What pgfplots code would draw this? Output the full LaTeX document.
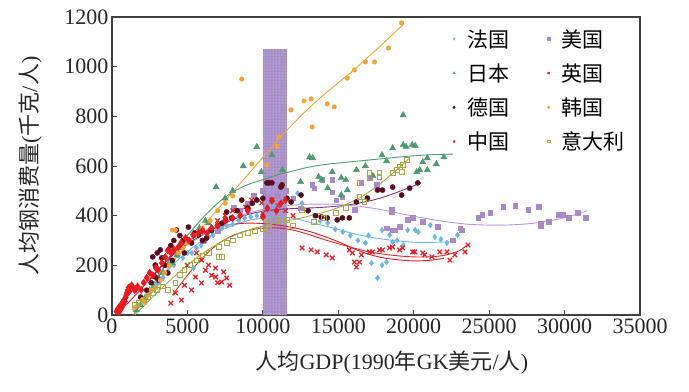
\documentclass[border=0pt]{standalone}
\usepackage{pgfplots}
\pgfplotsset{compat=1.18}
\usepackage{fontspec}
\setmainfont{Liberation Serif}
\newfontfamily\cjk{Noto Sans CJK SC}
\usetikzlibrary{patterns}
\definecolor{cFR}{HTML}{6DB6E8}
\definecolor{cJP}{HTML}{4F9A6E}
\definecolor{cDE}{HTML}{5A0B1E}
\definecolor{cCN}{HTML}{E51A22}
\definecolor{cUS}{HTML}{A88AC8}
\definecolor{cUK}{HTML}{E0262C}
\definecolor{cKR}{HTML}{F2A33A}
\definecolor{cIT}{HTML}{A7A84A}
\definecolor{cDEl}{HTML}{7B3294}
\definecolor{cUSl}{HTML}{B899D6}
\definecolor{band}{HTML}{A88FC9}
\begin{document}
\begin{tikzpicture}
\begin{axis}[name=ax,
  scale only axis, width=528pt, height=298pt,
  xmin=0, xmax=35000, ymin=0, ymax=1200,
  xtick={0,5000,...,35000}, ytick={0,200,...,1200},
  scaled x ticks=false, scaled y ticks=false,
  xtick pos=bottom, ytick pos=left, tick align=inside,
  major tick length=5pt,
  axis line style={draw=black!75, line width=1.2pt},
  every tick/.style={black!75, line width=1pt},
  /pgf/number format/1000 sep={},
  /pgf/number format/assume math mode=true,
  tick label style={font=\fontsize{22}{26}\selectfont, text=black!85},
  label style={font=\fontsize{22}{26}\selectfont, text=black!85},
  xlabel={{\cjk 人均}GDP(1990{\cjk 年}GK{\cjk 美元}/{\cjk 人})},
  ylabel={{\cjk 人均钢消费量}({\cjk 千克}/{\cjk 人})},
  xlabel style={at={(axis description cs:0.53,-0.161)}, anchor=center},
  ylabel style={at={(axis description cs:-0.155,0.5)}, anchor=center, rotate=0},
  legend columns=2,
  legend style={at={(axis description cs:0.645,0.966)}, anchor=north west,
    draw=none, fill=none, inner sep=0pt,
    font=\fontsize{21}{25}\selectfont, row sep=11pt,
    /tikz/every odd column/.append style={column sep=10pt},
    /tikz/every even column/.append style={column sep=36pt}},
  legend cell align=left,
  legend image code/.code={\draw[#1, mark size=1.3pt] plot coordinates {(0cm,0cm)};},
]
% shaded band
\addplot[draw=none, fill=band, forget plot] coordinates {(10000,1070) (11600,1070)} \closedcycle;
\addplot[draw=none, pattern=dots, pattern color=white!75!band, forget plot] coordinates {(10000,1070) (11600,1070)} \closedcycle;

% trend lines
\addplot[cFR, line width=0.9pt, smooth, forget plot] coordinates {(2000,55) (3000,130) (4000,200) (5000,255) (6000,300) (7000,335) (8000,360) (9000,380) (10000,390) (11000,395) (12000,390) (13000,375) (14000,360) (15000,345) (16000,328) (17000,315) (18000,305) (19000,298) (20000,293) (21000,292) (22500,295)};
\addplot[cJP, line width=0.9pt, smooth, forget plot] coordinates {(1400,0) (2000,50) (3000,150) (4000,240) (5000,320) (6000,390) (7000,450) (8000,495) (9000,525) (10000,545) (11000,565) (12000,580) (13000,595) (14000,605) (15000,612) (16000,618) (17000,624) (18000,630) (19000,636) (20000,641) (21000,645) (22600,648)};
\addplot[cDEl, line width=0.9pt, smooth, forget plot] coordinates {(2500,140) (3500,210) (4500,265) (5500,305) (6500,340) (7500,370) (8500,395) (9500,412) (10500,422) (11500,427) (12500,430) (13500,432) (14500,436) (15500,442) (16500,452) (17500,466) (18500,485) (19500,508) (20500,532)};
\addplot[cUSl, line width=0.9pt, smooth, forget plot] coordinates {(5500,300) (7000,360) (8500,400) (10000,425) (11500,440) (13000,446) (14500,446) (16000,440) (17500,428) (19000,410) (20500,392) (22000,377) (23500,366) (25000,362) (26500,363) (28000,370) (29500,385) (30500,400) (31500,420)};
\addplot[cUK, line width=0.9pt, smooth, forget plot] coordinates {(4000,80) (5000,160) (6000,230) (7000,285) (8000,320) (9000,340) (10000,350) (11000,350) (12000,342) (13000,325) (14000,305) (15000,287) (16000,270) (17000,255) (18000,245) (19000,238) (20000,234) (21000,234) (22000,240) (23000,258) (23600,285)};
\addplot[cCN, line width=0.9pt, smooth, forget plot] coordinates {(300,10) (1000,45) (2000,110) (3000,180) (4000,245) (5000,295) (6000,330) (7000,352) (8000,365) (9000,370) (10000,368) (11000,362) (12000,352) (13000,338) (14000,318) (15000,295) (16000,268) (17000,245) (18000,230) (19000,222) (20000,218) (21000,220) (22000,228)};
\addplot[cKR, line width=0.9pt, smooth, forget plot] coordinates {(1300,20) (2000,60) (3000,130) (4000,210) (5000,285) (6000,355) (7000,425) (8000,495) (9000,565) (10000,635) (11000,705) (12000,770) (13000,830) (14000,885) (15000,935) (16000,985) (17000,1040) (18000,1095) (19300,1170)};
\addplot[cIT, line width=0.9pt, smooth, forget plot] coordinates {(1500,0) (2500,60) (3500,120) (4500,175) (5500,225) (6500,268) (7500,303) (8500,330) (9500,350) (10500,365) (11500,378) (12500,390) (13500,405) (14500,422) (15500,445) (16500,475) (17500,515) (18500,565) (19700,630)};

% scatter series (legend order)
\addplot[only marks, mark=diamond*, mark size=2.8pt, color=cFR] coordinates {(2000,60) (2300,80) (2600,95) (2900,120) (3100,130) (3400,150) (3700,175) (3900,210) (4100,200) (4400,240) (4500,290) (4700,230) (5000,250) (5300,250) (5400,190) (5600,270) (5900,280) (6200,300) (6400,315) (6700,320) (7000,340) (7300,350) (7600,360) (8000,365) (8400,380) (8800,390) (9200,395) (9600,400) (10000,410) (10400,430) (10800,440) (11200,460) (11600,470) (12000,470) (12300,490) (12600,450) (13000,420) (13400,400) (13800,380) (14300,370) (14800,345) (15300,335) (15800,320) (16300,300) (16800,290) (17200,209) (17600,149) (17900,201) (18200,213) (18400,322) (18600,294) (18900,300) (19300,282) (19600,342) (20100,342) (20300,334) (21100,362) (21400,314) (21800,305) (22200,290) (22900,322) (17900,342) (17000,320)};
\addlegendentry{{\cjk 法国}}
\addplot[only marks, mark=square*, mark size=2.3pt, color=cUS] coordinates {(6000,300) (7000,340) (8070,431) (8500,420) (9000,450) (9400,483) (10000,500) (10500,470) (11000,480) (11500,500) (12000,470) (12500,430) (13270,524) (13400,511) (13930,544) (14600,544) (14600,495) (14870,463) (15270,475) (16070,423) (16530,532) (17070,552) (17530,524) (18530,423) (18530,415) (18200,350) (18600,342) (18730,342) (19070,355) (19600,383) (19930,391) (20600,375) (21600,355) (22600,302) (23070,350) (23200,342) (24270,391) (24530,403) (25070,411) (25930,435) (26730,439) (27600,423) (28270,435) (28400,359) (28400,370) (28930,375) (29600,403) (29870,403) (30270,391) (30870,411) (31400,391)};
\addlegendentry{{\cjk 美国}}
\addplot[only marks, mark=triangle*, mark size=3.6pt, color=cJP] coordinates {(1600,20) (1900,40) (2200,70) (2500,100) (2800,110) (3100,150) (3400,170) (3700,200) (4000,210) (4300,240) (4600,270) (5000,300) (5400,330) (5800,350) (6200,380) (6400,370) (6900,515) (7500,470) (8000,500) (8700,600) (9600,677) (9900,576) (10600,644) (11300,584) (12500,536) (13100,636) (13300,632) (13700,556) (13900,544) (14300,511) (14600,576) (15200,552) (15200,483) (15500,544) (15600,503) (16200,584) (17900,644) (18600,672) (19300,685) (19300,805) (19500,677) (19900,685) (20100,681) (20200,576) (20400,584) (20600,616) (20900,632) (20900,584) (21500,608) (22000,636) (16800,600) (17300,560) (18200,620)};
\addlegendentry{{\cjk 日本}}
\addplot[only marks, mark=x, mark size=3.2pt, line width=1.3pt, color=cUK] coordinates {(3900,48) (4200,89) (4600,60) (4800,120) (5270,101) (5530,153) (5930,129) (5930,221) (6200,180) (6400,201) (6600,160) (6870,189) (6870,153) (7000,130) (7270,133) (7400,173) (7600,149) (7800,120) (5000,200) (5600,250) (6100,300) (6500,340) (7000,380) (7500,400) (8000,420) (8870,435) (9070,435) (9270,463) (9930,451) (10600,463) (10000,410) (11000,440) (11500,420) (12000,400) (12600,270) (13200,262) (13600,254) (14200,242) (14600,230) (15730,262) (15930,250) (16070,213) (16200,193) (16400,213) (16530,242) (17070,254) (17270,254) (17730,262) (17930,262) (18400,270) (18600,274) (19070,262) (19270,270) (19930,254) (20070,254) (20600,250) (20730,242) (21200,234) (21730,254) (22200,254) (22400,221) (22730,242) (23400,254) (23600,282)};
\addlegendentry{{\cjk 英国}}
\addplot[only marks, mark=*, mark size=2.6pt, color=cDE] coordinates {(1900,72) (2300,100) (2600,130) (2700,234) (2870,201) (2870,153) (3000,250) (3200,262) (3300,230) (3500,200) (3700,169) (3730,262) (3900,280) (4100,300) (4270,342) (4500,320) (4700,300) (5070,354) (5270,290) (5500,330) (5730,322) (6000,300) (6270,310) (6600,340) (7000,360) (7300,370) (7530,382) (7600,415) (7930,391) (8300,420) (8600,463) (9000,430) (9300,450) (9600,463) (10000,470) (10270,532) (10400,532) (10600,532) (11200,515) (11270,524) (11600,470) (11870,455) (12530,483) (13000,420) (13500,400) (13870,395) (14270,391) (14930,383) (15270,391) (15730,391) (16200,455) (16930,471) (17600,503) (17930,503) (18600,515) (19200,483) (19730,511) (20270,532) (3100,140) (4000,220) (4800,250)};
\addlegendentry{{\cjk 德国}}
\addplot[only marks, mark=*, mark size=2.3pt, color=cKR] coordinates {(1500,30) (1700,40) (2000,60) (2200,50) (2400,80) (2600,100) (2900,110) (3200,140) (3500,170) (3800,200) (4000,342) (4200,342) (4400,250) (4700,270) (5000,290) (5500,320) (6000,350) (6500,380) (7000,420) (7500,450) (8000,480) (8600,950) (9270,608) (10270,604) (10930,680) (11070,717) (11870,826) (12730,862) (13200,870) (13270,757) (14270,850) (14730,838) (15600,954) (16070,987) (16800,1019) (17400,1019) (18330,1075) (19200,1176)};
\addlegendentry{{\cjk 韩国}}
\addplot[only marks, mark=diamond*, mark size=3.6pt, color=cCN] coordinates {(300,15) (400,25) (450,10) (500,35) (550,20) (600,40) (650,30) (700,50) (750,45) (800,60) (850,55) (900,70) (950,80) (1000,90) (1050,100) (1100,110) (1150,95) (1200,113) (1300,120) (1400,110) (1500,100) (1600,105) (1700,115) (1930,101) (2100,130) (2300,150) (2500,170) (2700,160) (2900,190) (3070,181) (3300,210) (3530,234) (3700,260) (3900,250) (4100,265) (4400,274) (4600,290) (4870,310) (5100,300) (5400,320) (5730,330) (6000,340) (6300,330) (6600,350) (7000,360) (7500,380) (8000,390) (8500,400) (9000,420) (10000,395) (10300,430) (10600,460) (10900,420) (11200,450) (11500,463)};
\addlegendentry{{\cjk 中国}}
\addplot[only marks, mark=square, mark size=2.4pt, line width=0.9pt, color=cIT, mark options={fill=white}] coordinates {(1530,40) (1800,50) (2100,60) (2400,72) (2700,90) (3000,100) (3400,115) (3730,101) (4200,129) (4500,160) (4800,180) (5200,200) (5600,220) (6000,240) (6400,250) (7070,234) (7070,274) (7270,234) (7600,290) (8000,300) (8500,320) (9000,330) (9500,340) (10000,345) (10400,342) (10400,375) (10870,383) (11600,383) (12000,360) (12600,423) (13400,375) (14070,391) (14870,411) (15500,430) (16400,475) (16400,532) (16730,455) (17070,552) (17070,572) (17730,556) (17730,572) (18600,572) (18870,584) (19070,596) (19200,576) (19270,604) (19530,624)};
\addlegendentry{{\cjk 意大利}}
\end{axis}
\pgfresetboundingbox
\path ([xshift=-112pt,yshift=-76pt]ax.south west) rectangle ([xshift=49pt,yshift=17pt]ax.north east);
\end{tikzpicture}
\end{document}
